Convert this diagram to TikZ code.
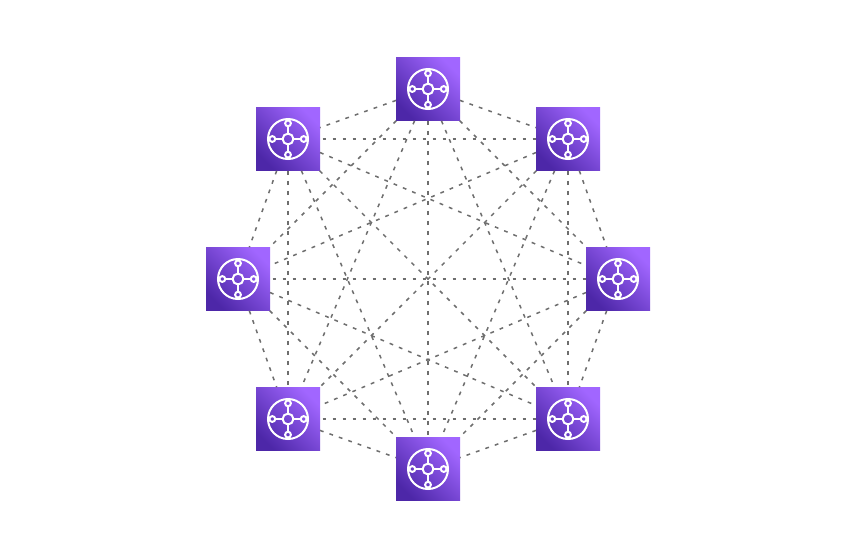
\documentclass[tikz,border=0pt]{standalone}
\definecolor{gwlow}{HTML}{4D27A8}
\definecolor{gwhigh}{HTML}{A166FF}
\definecolor{mesh}{HTML}{6E6E6E}
\tikzset{
  gateway/.style={rectangle,minimum width=64pt,minimum height=63.5pt,inner sep=0pt,outer sep=0pt,
    bottom color=gwlow,top color=gwhigh,shading angle=-45},
  meshline/.style={draw=mesh,line width=1.5pt,dash pattern=on 3.8pt off 6.2pt},
  meshflat/.style={meshline,shorten <=2.5pt},
  iconline/.style={draw=white,line width=2pt},
  pics/tgw/.style={code={
    \draw[iconline] (0,0) circle (20pt);
    \draw[iconline] (0,0) circle (5.4pt);
    \foreach \a in {0,90,180,270}{
      \draw[iconline] (\a:5.4pt) -- (\a:12.8pt);
      \draw[iconline] (\a:15.7pt) circle (2.9pt);
    }
  }}
}
\begin{document}
\begin{tikzpicture}[x=1pt,y=-1pt]
\useasboundingbox (0,0) rectangle (856,558);
\fill[white] (0,0) rectangle (856,558);
\node[gateway] (t)  at (428,89) {};
\node[gateway] (ul) at (288,139) {};
\node[gateway] (ur) at (568,139) {};
\node[gateway] (l)  at (238,279) {};
\node[gateway] (r)  at (618,279) {};
\node[gateway] (ll) at (288,419) {};
\node[gateway] (lr) at (568,419) {};
\node[gateway] (b)  at (428,469) {};
\foreach \p/\q in {t/ul,t/ur,t/l,t/r,t/ll,t/lr,t/b,
  ul/l,ul/r,ul/ll,ul/lr,ul/b,
  ur/l,ur/r,ur/ll,ur/lr,ur/b,
  l/ll,l/lr,l/b,
  r/ll,r/lr,r/b,
  ll/b,
  lr/b}
  \draw[meshline] (\p) -- (\q);
\foreach \p/\q in {ul/ur,l/r,ll/lr}
  \draw[meshflat] (\p) -- (\q);
\foreach \n in {t,ul,ur,l,r,ll,lr,b}
  \pic at (\n) {tgw};
\end{tikzpicture}
\end{document}
